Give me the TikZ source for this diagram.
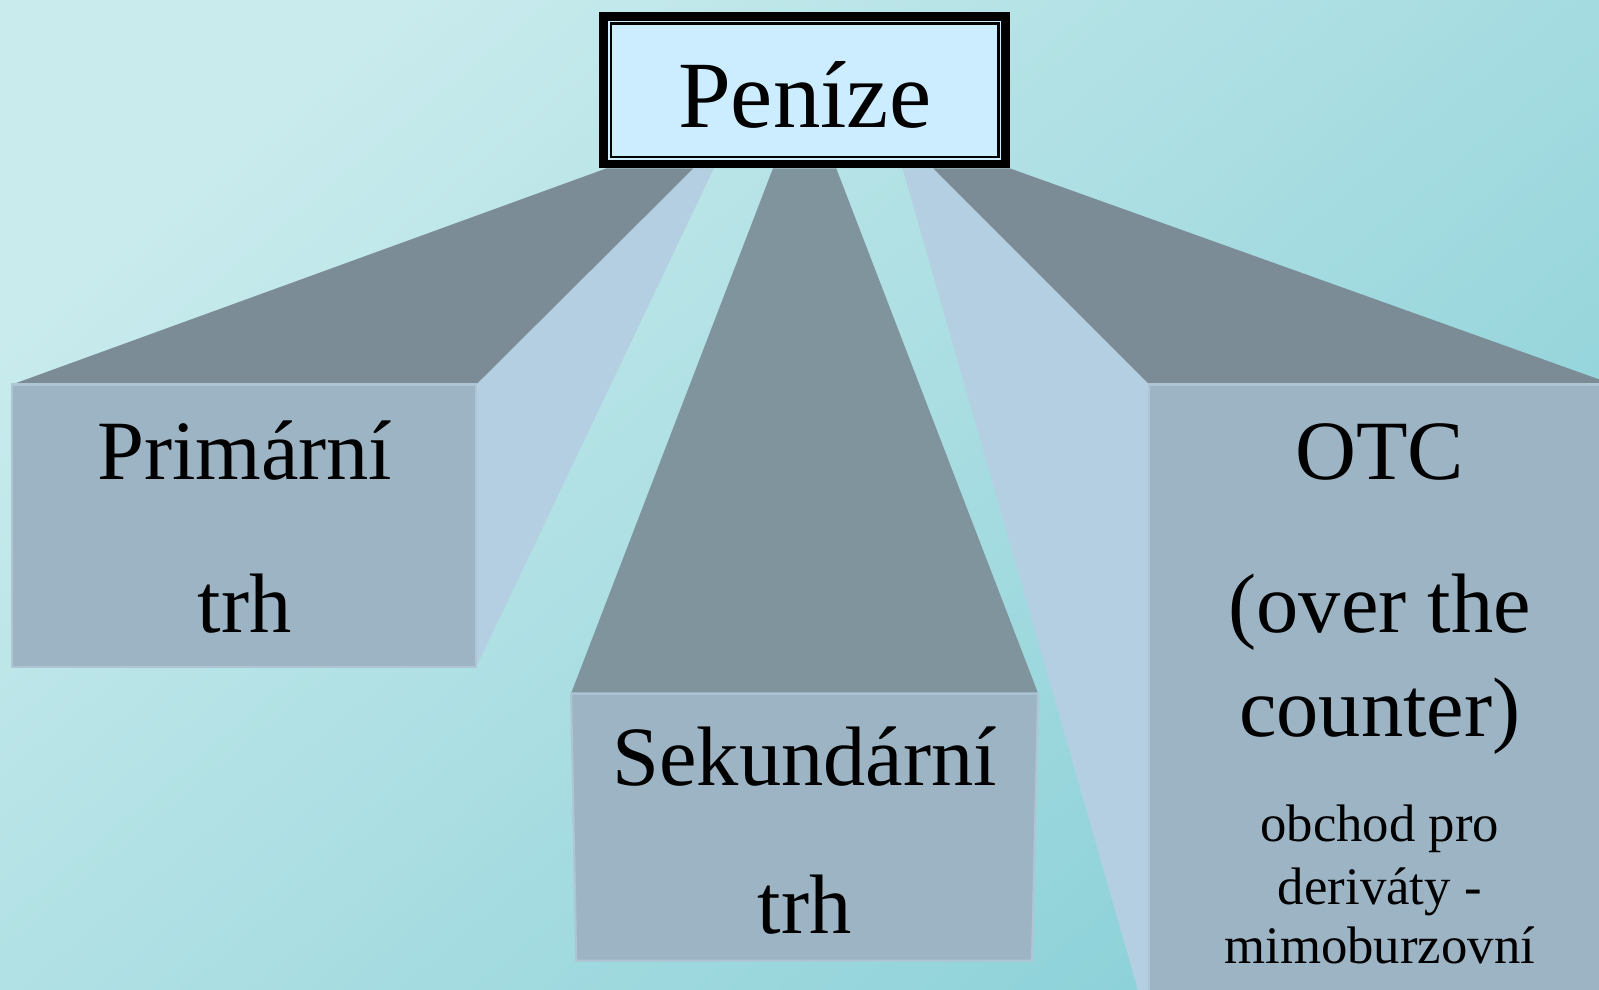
\documentclass[tikz,border=0pt]{standalone}
\usepackage{fontspec}
\setmainfont{Liberation Serif}
\definecolor{bgLight}{HTML}{C9EBED}
\definecolor{bgDark}{HTML}{8CD1D8}
\definecolor{frontFace}{HTML}{9DB4C4}
\definecolor{frontEdge}{HTML}{AFC5D3}
\definecolor{topFace}{HTML}{7B8C97}
\definecolor{midTop}{HTML}{80949E}
\definecolor{sideFace}{HTML}{B4CFE1}
\definecolor{titleFill}{HTML}{CCEDFF}
\begin{document}
\begin{tikzpicture}[x=0.010198cm, y=-0.010198cm,
    big/.style={anchor=base, font=\fontsize{24}{28}\selectfont},
    small/.style={anchor=base, font=\fontsize{15}{18}\selectfont},
    front/.style={fill=frontFace, draw=frontEdge, line width=0.6pt}]
    \useasboundingbox (0,0) rectangle (1568,970);
    \shade[top color=bgLight, bottom color=bgDark, shading angle=40] (0,0) rectangle (1568,970);
    % side faces
    \fill[sideFace] (467,377) -- (680,165) -- (700,165) -- (467,654) -- cycle;
    \fill[sideFace] (885,165) -- (915,165) -- (1127,377) -- (1127,975) -- (1117,975) -- cycle;
    % top faces
    \fill[topFace] (12,377) -- (595,165) -- (680,165) -- (467,377) -- cycle;
    \fill[midTop] (758,165) -- (820,165) -- (1018,680) -- (560,680) -- cycle;
    \fill[topFace] (915,165) -- (990,165) -- (1568,372) -- (1568,377) -- (1127,377) -- cycle;
    % front faces
    \path[front] (12,377) -- (467,377) -- (467,654) -- (12,654) -- cycle;
    \path[front] (560,680) -- (1018,680) -- (1012,942) -- (565,942) -- cycle;
    \path[front] (1127,377) -- (1570,377) -- (1570,975) -- (1127,975) -- cycle;
    % title box
    \path[fill=titleFill, draw=black, line width=2.4pt] (592,16) rectangle (986,161);
    \draw[line width=0.7pt] (599,23) rectangle (979,154);
    \node[anchor=base, font=\fontsize{27}{32}\selectfont] (penize) at (789,125) {Peníze};
    % labels
    \node[big] (prim1) at (240,470) {Primární};
    \node[big] (prim2) at (240,620) {trh};
    \node[big] (sek1) at (789,770) {Sekundární};
    \node[big] (sek2) at (789,915) {trh};
    \node[big] (otc1) at (1353,470) {OTC};
    \node[big] (otc2) at (1353,620) {(over the};
    \node[big] (otc3) at (1353,722) {counter)};
    \node[small] (otc4) at (1353,825) {obchod pro};
    \node[small] (otc5) at (1353,887) {deriváty -};
    \node[small] (otc6) at (1353,945) {mimoburzovní};
\end{tikzpicture}
\end{document}
